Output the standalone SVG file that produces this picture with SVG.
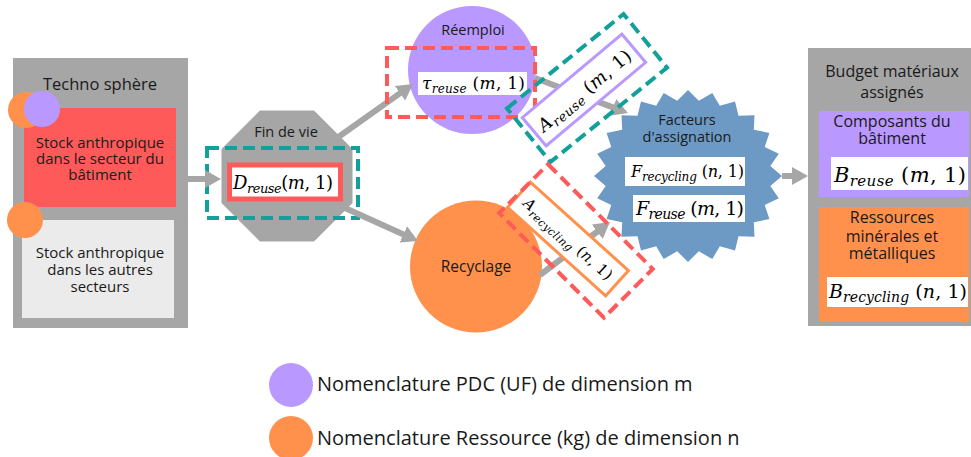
<svg xmlns="http://www.w3.org/2000/svg" width="971" height="457" viewBox="0 0 971 457">
<defs>
<style>
.lbl{font-family:"Open Sans","Liberation Sans",sans-serif;fill:#1a1a1a;text-anchor:middle}
.math{font-family:"DejaVu Serif","Liberation Serif",serif;fill:#000}
.it{font-style:italic}
.gray{fill:#a6a6a6}
.conn{stroke:#a6a6a6;stroke-width:6;fill:none;marker-end:url(#ah)}
.dteal{fill:none;stroke:#12a09b;stroke-width:4;stroke-dasharray:12 6}
.dred{fill:none;stroke:#ff5a5a;stroke-width:4;stroke-dasharray:12 6}
</style>
<marker id="ah" markerUnits="userSpaceOnUse" markerWidth="16" markerHeight="18" viewBox="0 0 16 18" refX="2" refY="9" orient="auto">
<path d="M0,0 L16,9 L0,18 z" fill="#a6a6a6"/>
</marker>
</defs>
<rect width="971" height="457" fill="#fff"/>

<g id="technosphere">
<rect x="13" y="58" width="175" height="270" class="gray"/>
<text x="100" y="90" class="lbl" font-size="16.5">Techno sphère</text>
<rect x="24" y="108" width="152" height="99" fill="#ff5a5a"/>
<text class="lbl" font-size="15"><tspan x="100" y="148">Stock anthropique</tspan><tspan x="100" y="164">dans le secteur du</tspan><tspan x="100" y="180">bâtiment</tspan></text>
<rect x="22" y="220" width="152" height="98" fill="#ebebeb"/>
<text class="lbl" font-size="15"><tspan x="100" y="258">Stock anthropique</tspan><tspan x="100" y="275">dans les autres</tspan><tspan x="100" y="292">secteurs</tspan></text>
<circle cx="26" cy="110" r="18" fill="#ff914d"/>
<circle cx="42" cy="109" r="18" fill="#b998ff"/>
<circle cx="25" cy="220" r="18" fill="#ff914d"/>
</g>

<g id="findevie">
<polygon points="260,110.5 314,110.5 352.5,149 352.5,203 314,241.5 260,241.5 221.5,203 221.5,149" class="gray"/>
<text x="286" y="137" class="lbl" font-size="14.5">Fin de vie</text>
<rect x="229.5" y="165" width="111" height="34" fill="#fff" stroke="#ff5a5a" stroke-width="5"/>
<text x="233" y="189" class="math" font-size="18" textLength="100"><tspan class="it">D</tspan><tspan class="it" font-size="13" dy="4">reuse</tspan><tspan dy="-4">(</tspan><tspan class="it">m</tspan>, 1)</text>
<rect x="207" y="148" width="151" height="70" class="dteal"/>
</g>

<g id="reemploi">
<circle cx="472" cy="70" r="64" fill="#b998ff"/>
<text x="473" y="35" class="lbl" font-size="14.5">Réemploi</text>
<rect x="418" y="72" width="109" height="23" fill="#fff"/>
<text x="422" y="89" class="math" font-size="17" textLength="103"><tspan class="it">τ</tspan><tspan class="it" font-size="12" dy="4">reuse</tspan><tspan dy="-4"> (</tspan><tspan class="it">m</tspan>, 1)</text>
</g>

<g id="recyclage">
<circle cx="476" cy="266.5" r="66" fill="#ff914d"/>
<text x="476" y="272" class="lbl" font-size="15.5">Recyclage</text>
</g>

<g id="facteurs">
<polygon fill="#6c9ac4" points="782,176 770.3,185.9 778.8,198.3 764.7,205.1 769.4,219 753.8,222.3 754.5,236.8 738.5,236.3 735,250.5 719.8,246.2 712.3,259.1 698.8,251.3 688,262 677.2,251.3 663.7,259.1 656.2,246.2 641,250.5 637.5,236.3 621.5,236.8 622.2,222.3 606.6,219 611.3,205.1 597.2,198.3 605.7,185.9 594,176 605.7,166.1 597.2,153.7 611.3,146.9 606.6,133 622.2,129.7 621.5,115.2 637.5,115.7 641,101.5 656.2,105.8 663.7,92.9 677.2,100.7 688,90 698.8,100.7 712.3,92.9 719.8,105.8 735,101.5 738.5,115.7 754.5,115.2 753.8,129.7 769.4,133 764.7,146.9 778.8,153.7 770.3,166.1"/>
<text class="lbl" font-size="14.5"><tspan x="687" y="125">Facteurs</tspan><tspan x="687" y="142">d'assignation</tspan></text>
<rect x="625" y="157" width="120" height="29" fill="#fff"/>
<text x="631" y="177" class="math" font-size="16" textLength="113"><tspan class="it">F</tspan><tspan class="it" font-size="12" dy="4">recycling</tspan><tspan dy="-4"> (</tspan><tspan class="it">n</tspan>, 1)</text>
<rect x="633" y="195" width="112" height="27" fill="#fff"/>
<text x="636" y="215" class="math" font-size="19" textLength="108"><tspan class="it">F</tspan><tspan class="it" font-size="14" dy="4">reuse</tspan><tspan dy="-4"> (</tspan><tspan class="it">m</tspan>, 1)</text>
</g>

<g id="budget">
<rect x="808" y="48" width="163" height="278" class="gray"/>
<text class="lbl" font-size="16"><tspan x="892" y="77">Budget matériaux</tspan><tspan x="892" y="98">assignés</tspan></text>
<rect x="819" y="111" width="150" height="86" fill="#b998ff"/>
<text class="lbl" font-size="16"><tspan x="892" y="127">Composants du</tspan><tspan x="892" y="144">bâtiment</tspan></text>
<rect x="831" y="157" width="137" height="33" fill="#fff"/>
<text x="834" y="182" class="math" font-size="21" textLength="132"><tspan class="it">B</tspan><tspan class="it" font-size="15" dy="4">reuse</tspan><tspan dy="-4"> (</tspan><tspan class="it">m</tspan>, 1)</text>
<rect x="819" y="207" width="150" height="115" fill="#ff914d"/>
<text class="lbl" font-size="16"><tspan x="892" y="223">Ressources</tspan><tspan x="892" y="242">minérales et</tspan><tspan x="892" y="259">métalliques</tspan></text>
<rect x="827" y="277" width="141" height="30" fill="#fff"/>
<text x="829" y="298" class="math" font-size="19" textLength="138"><tspan class="it">B</tspan><tspan class="it" font-size="14" dy="4">recycling</tspan><tspan dy="-4"> (</tspan><tspan class="it">n</tspan>, 1)</text>
</g>

<g id="connectors">
<line x1="188" y1="179" x2="207" y2="179" class="conn"/>
<line x1="337" y1="138" x2="401.6" y2="92.1" class="conn"/>
<line x1="345" y1="208" x2="405.2" y2="235.2" class="conn"/>
<line x1="535" y1="78" x2="614.9" y2="108.1" class="conn"/>
<line x1="540" y1="275" x2="598.8" y2="230.5" class="conn"/>
<line x1="782" y1="176" x2="794" y2="176" class="conn"/>
</g>

<g id="tau-box">
<rect x="387" y="48" width="148" height="69" class="dred"/>
</g>

<g id="a-reuse">
<g transform="translate(584,90) rotate(-40)">
<rect x="-65" y="-18.5" width="130" height="37" fill="#fff" stroke="#b998ff" stroke-width="3"/>
<text x="0" y="7" class="math" font-size="18" text-anchor="middle" textLength="116"><tspan class="it">A</tspan><tspan class="it" font-size="13" dy="4">reuse</tspan><tspan dy="-4"> (</tspan><tspan class="it">m</tspan>, 1)</text>
</g>
<rect x="-75" y="-34.5" width="150" height="69" class="dteal" transform="translate(587,88) rotate(-39)"/>
</g>

<g id="a-recycling">
<g transform="translate(568,239) rotate(42)">
<rect x="-66" y="-17" width="132" height="34" fill="#fff" stroke="#ff914d" stroke-width="3"/>
<text x="0" y="5" class="math" font-size="15" text-anchor="middle" textLength="114"><tspan class="it">A</tspan><tspan class="it" font-size="11" dy="4">recycling</tspan><tspan dy="-4"> (</tspan><tspan class="it">n</tspan>, 1)</text>
</g>
<rect x="-74" y="-34.5" width="148" height="69" class="dred" transform="translate(576,241) rotate(45)"/>
</g>

<g id="legend">
<circle cx="291" cy="385" r="22" fill="#b998ff"/>
<text x="317" y="391" font-family="'Open Sans','Liberation Sans',sans-serif" font-size="20" fill="#1a1a1a">Nomenclature PDC (UF) de dimension m</text>
<circle cx="291" cy="438" r="22" fill="#ff914d"/>
<text x="317" y="445" font-family="'Open Sans','Liberation Sans',sans-serif" font-size="20" fill="#1a1a1a">Nomenclature Ressource (kg) de dimension n</text>
</g>
</svg>
